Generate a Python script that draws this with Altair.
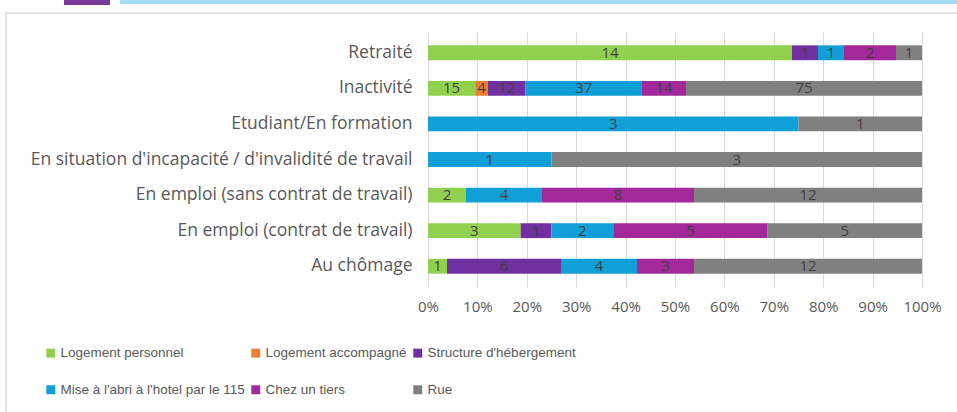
import altair as alt
import pandas as pd

categories = [
    "Retraité",
    "Inactivité",
    "Etudiant/En formation",
    "En situation d'incapacité / d'invalidité de travail",
    "En emploi (sans contrat de travail)",
    "En emploi (contrat de travail)",
    "Au chômage",
]
series = [
    "Logement personnel",
    "Logement accompagné",
    "Structure d'hébergement",
    "Mise à l'abri à l'hotel par le 115",
    "Chez un tiers",
    "Rue",
]
colors = ["#92D050", "#ED7D31", "#7030A0", "#109FD6", "#A3289A", "#808080"]

logement_personnel = [14, 15, 0, 0, 2, 3, 1]
logement_accompagne = [0, 4, 0, 0, 0, 0, 0]
structure_hebergement = [1, 12, 0, 0, 0, 1, 6]
mise_abri_115 = [1, 37, 3, 1, 4, 2, 4]
chez_un_tiers = [2, 14, 0, 0, 8, 5, 3]
rue = [1, 75, 1, 3, 12, 5, 12]

values = [logement_personnel, logement_accompagne, structure_hebergement,
          mise_abri_115, chez_un_tiers, rue]

rows = []
for si, (s, vals) in enumerate(zip(series, values)):
    for c, v in zip(categories, vals):
        if v > 0:
            rows.append({"cat": c, "serie": s, "order": si, "value": v})
df = pd.DataFrame(rows)

FONT = "Open Sans"
TXT = "#595959"
TOP = 32
LEFT = 428

base = alt.Chart(df).transform_joinaggregate(
    total="sum(value)", groupby=["cat"]
).transform_calculate(
    frac="datum.value / datum.total"
).transform_stack(
    stack="frac", groupby=["cat"], as_=["x0", "x1"],
    sort=[alt.SortField("order", order="ascending")]
).transform_calculate(
    mid="(datum.x0 + datum.x1) / 2"
)

yenc = alt.Y("cat:N", sort=categories, title=None,
             scale=alt.Scale(paddingInner=0.583, paddingOuter=0.375),
             axis=alt.Axis(labelFont=FONT, labelFontSize=17.5, labelColor=TXT,
                           ticks=False, domain=False, labelPadding=16,
                           labelLimit=500))

bars = base.mark_bar().encode(
    x=alt.X("x0:Q", title=None,
            scale=alt.Scale(domain=[0, 1]),
            axis=alt.Axis(format="%", values=[i / 10 for i in range(11)],
                          labelFont=FONT, labelFontSize=15, labelColor=TXT,
                          labelOverlap=False, labelFlush=False,
                          grid=True, gridColor="#d9d9d9", ticks=False,
                          domain=False, labelPadding=12)),
    x2="x1:Q",
    y=yenc,
    color=alt.Color("serie:N", sort=series,
                    scale=alt.Scale(domain=series, range=colors),
                    legend=alt.Legend(title=None, orient="none",
                                      legendX=-384, legendY=314,
                                      columns=3, direction="horizontal",
                                      symbolType="square", symbolSize=80,
                                      symbolStrokeWidth=0,
                                      labelFont="Liberation Sans",
                                      labelFontSize=13.5, labelColor=TXT,
                                      columnPadding=4, rowPadding=22,
                                      labelOffset=3,
                                      labelLimit=400)),
    order=alt.Order("order:Q"),
)

labels = base.mark_text(font=FONT, fontSize=15, color="#404040").encode(
    x="mid:Q",
    y=alt.Y("cat:N", sort=categories),
    text="value:Q",
)

frame = alt.Chart(pd.DataFrame({"a": [0]})).mark_rect(
    fill=None, stroke="#d9d9d9", strokeWidth=1.5
).encode(x=alt.value(6 - LEFT), x2=alt.value(957 - LEFT + 10),
         y=alt.value(13 - TOP), y2=alt.value(412 - TOP + 10))

hdr_purple = alt.Chart(pd.DataFrame({"a": [0]})).mark_rect(
    color="#7B3A98"
).encode(x=alt.value(64 - LEFT), x2=alt.value(110 - LEFT),
         y=alt.value(-40), y2=alt.value(5 - TOP))

hdr_blue = alt.Chart(pd.DataFrame({"a": [0]})).mark_rect(
    color="#A6DCF5"
).encode(x=alt.value(120 - LEFT), x2=alt.value(957 - LEFT + 10),
         y=alt.value(-40), y2=alt.value(4 - TOP))

chart = alt.layer(frame, hdr_purple, hdr_blue, bars, labels).properties(
    width=494, height=255,
    autosize=alt.AutoSizeParams(type="none"),
    padding={"left": LEFT, "top": TOP, "right": 35, "bottom": 125},
    background="white",
).configure_view(stroke=None)

chart.save("out.html", embed_options={"renderer": "svg", "actions": False})
